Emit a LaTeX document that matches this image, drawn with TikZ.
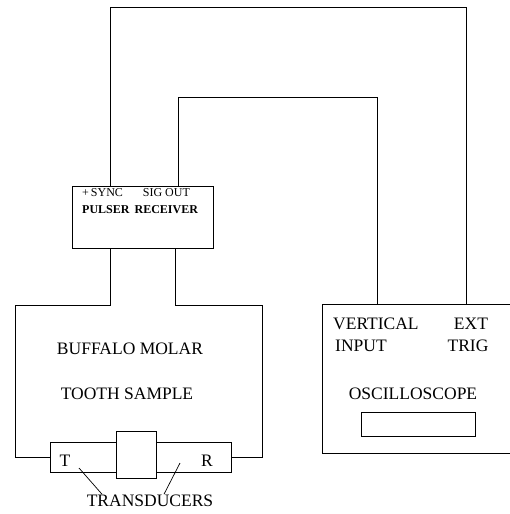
\documentclass[tikz,border=0pt]{standalone}
\usepackage{fontspec}
\setmainfont{Liberation Serif}
\usepackage{tikz}
\usetikzlibrary{positioning}

\begin{document}
\begin{tikzpicture}[
        x=1pt, y=-1pt,
        unit/.style={draw, line width=1pt, fill=white, inner sep=0pt},
        wire/.style={line width=1pt},
        big/.style={font=\fontsize{17.5}{20}\selectfont, inner sep=0pt},
        small/.style={font=\fontsize{12}{17}\selectfont, inner sep=0pt}
    ]
        \useasboundingbox (0,0) rectangle (510,514);
        \clip (0,0) rectangle (510,514);

        % boxes
        \node[unit, minimum width=141pt, minimum height=62pt] (pulser) at (142.5,217) {};
        \node[unit, minimum width=181pt, minimum height=30pt] (trans) at (140.5,457) {};
        \node[unit, minimum width=40pt, minimum height=47pt] (tooth) at (136,454.5) {};
        \node[unit, minimum width=208pt, minimum height=149pt] (scope) at (426,378.5) {};
        \node[unit, minimum width=114pt, minimum height=24pt] (screen) at (418,424) {};

        % ports
        \coordinate (sync) at (110,186);
        \coordinate (sigout) at (178,186);
        \coordinate (pulse) at (110,248);
        \coordinate (rxin) at (175,248);
        \coordinate (vin) at (377,304);
        \coordinate (trig) at (466,304);

        % texts
        \node[small, anchor=base west] (ptop) at (82,205) {%
            \begin{tabular}{@{}l@{\hspace{5pt}}c@{}}
            +\,SYNC & SIG OUT\\
            \textbf{PULSER} & \textbf{RECEIVER}
            \end{tabular}};
        \node[big, anchor=base] (buffalo) at (130,354) {BUFFALO MOLAR};
        \node[big, anchor=base] (sample) at (127,399) {TOOTH SAMPLE};
        \node[big, anchor=base] (tl) at (65,466) {T};
        \node[big, anchor=base] (rl) at (207,466) {R};
        \node[big, anchor=base] (tlabel) at (150,506) {TRANSDUCERS};
        \node[big, anchor=base west] (vert) at (333,329) {VERTICAL};
        \node[big, anchor=base west] (input) at (335,351) {INPUT};
        \node[big, anchor=base] (ext) at (471,329) {EXT};
        \node[big, anchor=base] (trigl) at (468,351) {TRIG};
        \node[big, anchor=base] (oscl) at (413,399) {OSCILLOSCOPE};

        % wiring
        \draw[wire] (sync) -- ++(0,-179) -| (trig);
        \draw[wire] (sigout) -- ++(0,-89) -| (vin);
        \draw[wire] (pulse) |- ++(-95,57) |- (trans.west);
        \draw[wire] (rxin) |- ++(87,57) |- (trans.east);

        % leaders
        \coordinate (tend) at (79,468);
        \coordinate (rend) at (180,463);
        \draw[wire, line width=0.7pt] (tend) -- (tlabel.north -| 102,0);
        \draw[wire, line width=0.7pt] (rend) -- (tlabel.north -| 164,0);
    \end{tikzpicture}
\end{document}
